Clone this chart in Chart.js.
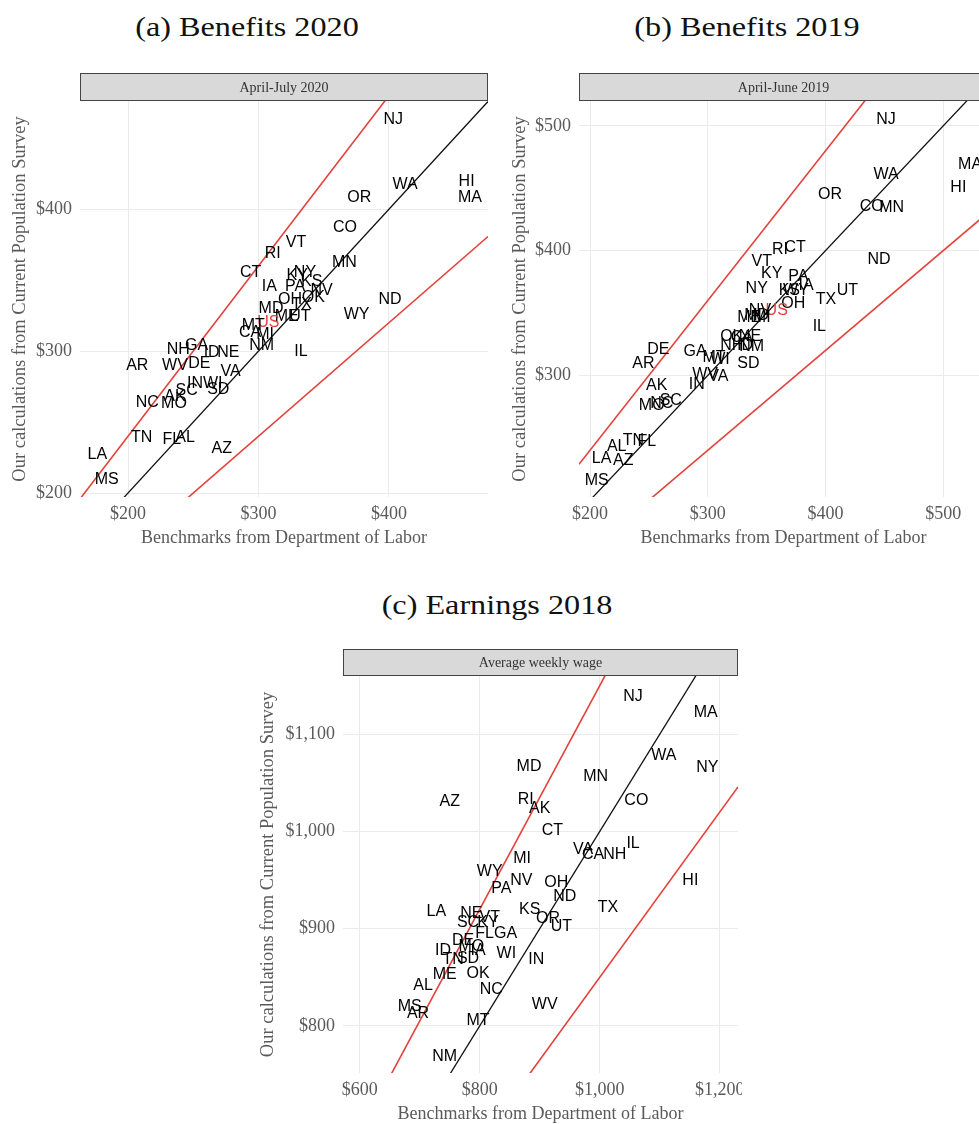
<!DOCTYPE html>
<html>
<head>
<meta charset="utf-8">
<script src="https://cdn.jsdelivr.net/npm/chart.js@4.4.1/dist/chart.umd.min.js"></script>
<style>
  html, body { margin: 0; padding: 0; background: #fff; overflow: hidden; width: 979px; height: 1124px; }
  .panel { position: absolute; overflow: hidden; }
  .title {
    position: absolute; font-family: 'Liberation Serif', serif; font-size: 28px; color: #111;
    white-space: nowrap; line-height: 32px; transform: translateX(-50%) scaleX(1.15);
  }
</style>
</head>
<body>
<div class="title" style="left:247px;top:11px">(a) Benefits 2020</div>
<div class="title" style="left:747px;top:11px">(b) Benefits 2019</div>
<div class="title" style="left:497px;top:589px">(c) Earnings 2018</div>

<div class="panel" style="left:0px;top:60px;width:500px;height:500px"><canvas id="chartA" width="500" height="500"></canvas></div>
<div class="panel" style="left:500px;top:60px;width:479px;height:500px"><canvas id="chartB" width="500" height="500"></canvas></div>
<div class="panel" style="left:248px;top:630px;width:494px;height:494px"><canvas id="chartC" width="520" height="500"></canvas></div>

<script>
// ---- (a) Weekly UI benefits, April-July 2020 ----
const statesA = ['NJ','WA','HI','MA','OR','CO','VT','RI','MN','CT','NY','KY','KS','PA','IA','NV','OK','OH','ND','TX',
                 'MD','WY','ME','UT','US','MT','CA','MI','NM','IL','GA','NH','ID','NE','AR','WV','DE','VA','IN','WI',
                 'SC','SD','AK','NC','MO','TN','FL','AL','AZ','LA','MS'];
const benchA = [403.3,412.3,459.5,462.1,377.3,366.3,328.7,310.9,365.8,294.0,335.6,329.7,340.8,328.0,308.3,348.4,342.0,324.1,400.8,333.1,
                309.6,375.2,321.6,331.8,307.5,296.0,293.5,305.0,302.4,332.6,252.6,238.5,264.1,276.9,207.1,236.0,254.6,278.7,251.3,264.9,
                245.0,269.2,236.0,214.8,235.2,210.5,233.5,243.7,271.8,176.5,183.7];
const cpsA   = [463.2,417.4,419.7,408.0,408.0,386.8,376.6,368.7,362.1,355.0,355.0,353.1,349.1,345.6,345.2,342.8,337.4,336.2,336.2,332.7,
                329.6,325.6,324.0,324.4,320.2,317.9,312.7,311.5,303.7,299.7,304.2,300.9,298.6,299.0,289.8,289.6,291.5,285.6,277.4,277.4,
                272.0,273.2,268.0,263.7,263.3,239.0,237.9,239.3,231.5,226.8,209.2];
const xTicksA = [200, 300, 400];
const yTicksA = [200, 300, 400];
const xRangeA = [163.2, 475.9];
const yRangeA = [197.2, 476.2];

// ---- (b) Weekly UI benefits, April-June 2019 ----
const statesB = ['NJ','MA','WA','HI','OR','CO','MN','RI','CT','ND','VT','KY','PA','NY','UT','TX','KS','IA','WY','OH',
                 'US','NV','ME','MD','MI','IL','OK','CA','NE','NH','NM','ID','MT','WI','DE','GA','AR','SD','WV','VA',
                 'AK','IN','SC','MO','NC','TN','AL','FL','LA','AZ','MS'];
const benchB = [451.5,522.9,451.5,512.9,403.9,439.3,456.3,361.4,374.2,445.5,345.9,354.4,377.0,341.6,418.6,400.5,369.3,383.5,375.0,372.7,
                358.6,344.4,335.3,341.6,345.9,394.8,320.4,328.9,335.9,320.4,337.4,331.7,305.4,310.4,258.0,289.2,245.3,334.5,297.7,309.0,
                256.7,290.7,268.6,252.4,260.9,236.8,222.7,248.2,209.9,228.3,205.7];
const cpsB   = [504.8,469.2,461.2,450.4,444.6,435.2,434.7,400.5,402.3,393.0,391.1,381.8,379.6,369.8,368.4,361.0,367.8,372.4,367.8,357.7,
                352.4,352.4,346.5,348.4,346.5,339.5,331.5,330.5,331.5,324.3,323.5,324.3,314.4,312.8,320.9,318.9,309.6,309.6,301.0,298.9,
                292.2,293.0,280.2,276.2,277.5,248.1,242.7,246.8,233.4,231.5,216.0];
const xTicksB = [200, 300, 400, 500];
const yTicksB = [300, 400, 500];
const xRangeB = [190.65, 538.1];
const yRangeB = [202.6, 520.0];

// ---- (c) Average weekly wage, 2018 ----
const statesC = ['NJ','MA','WA','NY','MD','MN','AZ','RI','AK','CO','CT','IL','VA','CA','NH','MI','WY','HI','NV','PA',
                 'OH','ND','TX','LA','KS','OR','UT','NE','SC','KY','VT','FL','GA','DE','ID','MO','IA','TN','SD','WI',
                 'IN','ME','OK','AL','NC','WV','MS','AR','MT','NM'];
const benchC = [1055.6,1176.7,1106.7,1179.4,882.2,993.3,750.0,876.7,900.0,1061.1,921.1,1055.6,972.2,988.9,1025.0,870.6,816.7,1151.1,869.4,836.1,
                927.8,941.7,1013.9,727.8,883.3,913.9,936.1,786.1,780.6,813.9,816.7,808.3,843.3,772.2,738.9,786.1,797.2,755.6,780.6,844.4,
                894.4,741.7,797.2,705.6,819.4,908.3,683.3,697.2,797.2,741.7];
const cpsC   = [1138.8,1122.3,1077.8,1065.7,1066.8,1056.5,1030.8,1032.5,1024.0,1031.5,1000.9,988.0,981.8,975.9,975.9,972.5,958.7,949.5,949.5,941.7,
                947.4,933.0,922.1,917.6,919.3,910.8,902.2,915.9,906.3,906.3,911.8,895.4,895.4,887.4,877.5,881.6,877.5,867.9,869.7,874.1,
                868.6,852.5,853.5,841.2,837.0,821.6,819.9,813.1,805.1,768.4];
const xTicksC = [600, 800, 1000, 1200];
const yTicksC = [800, 900, 1000, 1100];
const xRangeC = [572.2, 1230.5];
const yRangeC = [751.6, 1160.0];

// Reference lines: 45-degree line and the +/- band around it
const guideSlopesAB = [0.8, 1.0, 1.2];
const guideSlopesC  = [0.85, 1.0, 1.15];

const RED = '#e5413b';
const GRID = '#ebebeb';
const AXIS_TEXT = '#5a5a5a';

Chart.defaults.font.family = "'Liberation Serif', 'Times New Roman', serif";
Chart.defaults.devicePixelRatio = 1;

// Draws state abbreviations centred on each point
const stateLabels = {
  id: 'stateLabels',
  afterDatasetsDraw(chart) {
    const ctx = chart.ctx;
    chart.data.datasets.forEach((ds, di) => {
      if (!ds.labels) return;
      const meta = chart.getDatasetMeta(di);
      ctx.save();
      ctx.font = '16px "Liberation Sans", Arial, sans-serif';
      ctx.textAlign = 'center';
      ctx.textBaseline = 'middle';
      meta.data.forEach((pt, i) => {
        ctx.fillStyle = ds.labels[i] === 'US' ? RED : '#000';
        ctx.fillText(ds.labels[i], pt.x, pt.y);
      });
      ctx.restore();
    });
  }
};

// Grey facet strip above the plotting area
const facetStrip = {
  id: 'facetStrip',
  afterDraw(chart, args, opts) {
    const { ctx, chartArea: a } = chart;
    const h = opts.height;
    ctx.save();
    ctx.fillStyle = '#d9d9d9';
    ctx.fillRect(a.left, a.top - h, a.right - a.left, h);
    ctx.strokeStyle = '#444';
    ctx.lineWidth = 1;
    ctx.strokeRect(Math.round(a.left) + 0.5, Math.round(a.top - h) + 0.5, Math.round(a.right - a.left) - 1, h - 1);
    ctx.fillStyle = '#333';
    ctx.font = "14px 'Liberation Serif', serif";
    ctx.textAlign = 'center';
    ctx.textBaseline = 'middle';
    ctx.fillText(opts.text, (a.left + a.right) / 2, a.top - h / 2 + 1);
    ctx.restore();
  }
};

function dollars(v) { return '$' + Number(v).toLocaleString('en-US'); }

function makePanel(id, p) {
  const points = p.states.map((s, i) => ({ x: p.bench[i], y: p.cps[i] }));
  const lines = p.slopes.map(s => ({
    type: 'line',
    data: [{ x: p.xRange[0], y: s * p.xRange[0] }, { x: p.xRange[1], y: s * p.xRange[1] }],
    borderColor: s === 1 ? '#111' : RED,
    borderWidth: s === 1 ? 1.3 : 1.6,
    pointRadius: 0,
    fill: false,
    clip: 0
  }));
  new Chart(document.getElementById(id), {
    type: 'scatter',
    data: {
      datasets: [
        ...lines,
        { type: 'scatter', data: points, labels: p.states, pointRadius: 0, pointHoverRadius: 0 }
      ]
    },
    options: {
      responsive: false,
      animation: false,
      events: [],
      layout: { padding: p.padding },
      plugins: {
        legend: { display: false },
        tooltip: { enabled: false },
        facetStrip: { text: p.strip, height: p.stripH }
      },
      scales: {
        x: {
          type: 'linear', min: p.xRange[0], max: p.xRange[1],
          afterBuildTicks: sc => { sc.ticks = p.xTicks.map(v => ({ value: v })); },
          afterFit: sc => { sc.height = p.xAxisH; },
          grid: { color: GRID, lineWidth: 1, drawTicks: false },
          border: { display: false },
          ticks: { callback: dollars, color: AXIS_TEXT, font: { size: 18 }, padding: 6, maxRotation: 0, autoSkip: false },
          title: { display: true, text: 'Benchmarks from Department of Labor', color: AXIS_TEXT, font: { size: 18 }, padding: { top: 0, bottom: 0 } }
        },
        y: {
          type: 'linear', min: p.yRange[0], max: p.yRange[1],
          afterBuildTicks: sc => { sc.ticks = p.yTicks.map(v => ({ value: v })); },
          afterFit: sc => { sc.width = p.yAxisW; },
          grid: { color: GRID, lineWidth: 1, drawTicks: false },
          border: { display: false },
          ticks: { callback: dollars, color: AXIS_TEXT, font: { size: 18 }, padding: 8, autoSkip: false },
          title: { display: true, text: 'Our calculations from Current Population Survey', color: AXIS_TEXT, font: { size: 18.5 }, padding: { top: 9, bottom: 0 } }
        }
      }
    },
    plugins: [stateLabels, facetStrip]
  });
}

makePanel('chartA', {
  states: statesA, bench: benchA, cps: cpsA, slopes: guideSlopesAB,
  xTicks: xTicksA, yTicks: yTicksA, xRange: xRangeA, yRange: yRangeA,
  strip: 'April-July 2020', stripH: 28,
  padding: { top: 41, right: 12, bottom: 11.2, left: 0 }, yAxisW: 80, xAxisH: 51.8
});

makePanel('chartB', {
  states: statesB, bench: benchB, cps: cpsB, slopes: guideSlopesAB,
  xTicks: xTicksB, yTicks: yTicksB, xRange: xRangeB, yRange: yRangeB,
  strip: 'April-June 2019', stripH: 28,
  padding: { top: 41, right: 12, bottom: 11.2, left: 0 }, yAxisW: 79, xAxisH: 51.8
});

makePanel('chartC', {
  states: statesC, bench: benchC, cps: cpsC, slopes: guideSlopesC,
  xTicks: xTicksC, yTicks: yTicksC, xRange: xRangeC, yRange: yRangeC,
  strip: 'Average weekly wage', stripH: 27,
  padding: { top: 46, right: 30, bottom: 5.2, left: 0 }, yAxisW: 95, xAxisH: 51.8
});
</script>
</body>
</html>
